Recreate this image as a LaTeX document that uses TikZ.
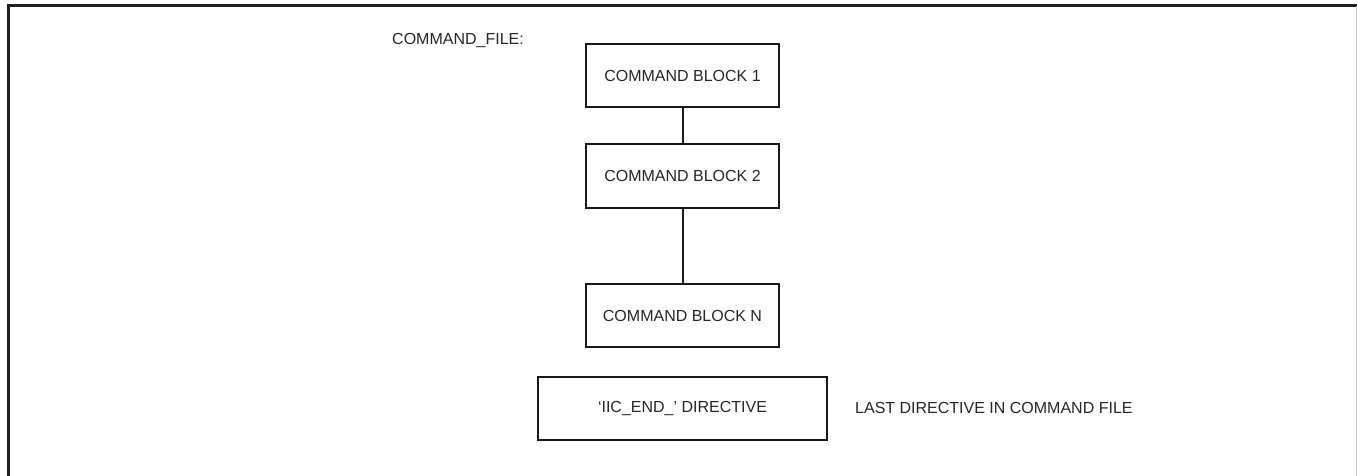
\documentclass[tikz,border=0pt]{standalone}
\usepackage{fontspec}
\setmainfont{Liberation Sans}
\begin{document}
\begin{tikzpicture}[x=1pt,y=-1pt,
  blk/.style={draw=black!90, line width=2pt, minimum width=193pt, minimum height=63pt, inner sep=0pt, font=\fontsize{16}{19}\selectfont, text=black!85},
  lbl/.style={anchor=west, inner sep=0pt, font=\fontsize{16}{19}\selectfont, text=black!85},
  conn/.style={draw=black!90, line width=2pt},
  frame/.style={draw=black!88, line width=3pt}]
\useasboundingbox (0,0) rectangle (1357,476);
\coordinate (ftl) at (8,6);
\coordinate (ftr) at (1357,6);
\coordinate (fbl) at (8,476);
\draw[frame] (fbl) -- (ftl) -- (ftr);
\coordinate (rt) at (1356,6);
\coordinate (rb) at (1356,476);
\draw[black!20, line width=1pt] (rt) -- (rb);
\node[blk] (b1) at (682.5,75.5) {COMMAND BLOCK 1};
\node[blk] (b2) at (682.5,176) {COMMAND BLOCK 2};
\node[blk] (bn) at (682.5,315.5) {COMMAND BLOCK N};
\node[blk, minimum width=289pt] (iic) at (682.5,408.5) {‘IIC\_END\_’ DIRECTIVE};
\node[lbl] (cf) at (392,41) {COMMAND\_FILE:};
\node[lbl] (last) at (855,408) {LAST DIRECTIVE IN COMMAND FILE};
\draw[conn] (b1.south) -- (b2.north);
\draw[conn] (b2.south) -- (bn.north);
\end{tikzpicture}
\end{document}
